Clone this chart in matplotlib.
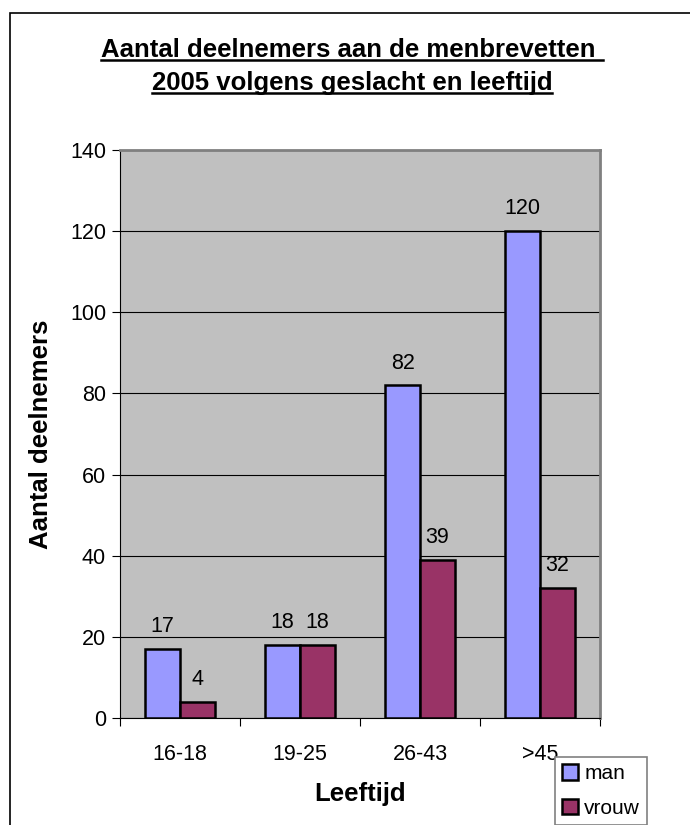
import matplotlib.pyplot as plt
from matplotlib.patches import Rectangle
from matplotlib.lines import Line2D
import numpy as np

plt.rcParams['font.family'] = ['Liberation Sans', 'DejaVu Sans']

categories = ['16-18', '19-25', '26-43', '>45']
man = [17, 18, 82, 120]
vrouw = [4, 18, 39, 32]
series_names = ['man', 'vrouw']
yticks = [0, 20, 40, 60, 80, 100, 120, 140]

W, H = 690, 825
fig = plt.figure(figsize=(W / 100, H / 100), dpi=100)

# plot area in pixels: left 120, right 600, top 150, bottom 718
ax = fig.add_axes([120 / W, 1 - 718 / H, 480 / W, 568 / H])
ax.set_facecolor('#C0C0C0')

x = np.arange(len(categories))
bw = 0.29
b1 = ax.bar(x - bw / 2, man, bw, color='#9999FF', edgecolor='black', linewidth=1.8, zorder=3)
b2 = ax.bar(x + bw / 2, vrouw, bw, color='#993366', edgecolor='black', linewidth=1.8, zorder=3)

for bars, vals in ((b1, man), (b2, vrouw)):
    for r, v in zip(bars, vals):
        ax.text(r.get_x() + r.get_width() / 2, v + 2.9, str(v), ha='center', va='bottom',
                fontsize=15.5, zorder=4)

ax.set_xlim(-0.5, len(categories) - 0.5)
ax.set_ylim(0, 140)
ax.set_yticks(yticks)
ax.yaxis.grid(True, color='black', linewidth=0.8, zorder=1)
ax.set_xticks(np.arange(len(categories) + 1) - 0.5)
ax.set_xticklabels([])
ax.set_xticks(x, minor=True)
ax.set_xticklabels(categories, minor=True, fontsize=15.5)
ax.tick_params(axis='x', which='minor', length=0, pad=19)
ax.tick_params(axis='x', which='major', length=6, direction='out')
ax.tick_params(axis='y', length=6, direction='out', labelsize=15.5, pad=4)

for s in ('top', 'right'):
    ax.spines[s].set_color('#808080')
    ax.spines[s].set_linewidth(2)
ax.spines['left'].set_color('black')
ax.spines['bottom'].set_color('black')

ax.set_ylabel('Aantal deelnemers', fontsize=18.5, fontweight='bold', labelpad=12)
ax.set_xlabel('Leeftijd', fontsize=18.5, fontweight='bold', labelpad=12)

# outer chart border
fig.patches.append(Rectangle((10 / W, -0.1), 1.0, 1 - 13 / H + 0.1, transform=fig.transFigure,
                             fill=False, edgecolor='black', linewidth=1.2))

# title with underline
title_lines = ['Aantal deelnemers aan de menbrevetten ', '2005 volgens geslacht en leeftijd']
title_y = [50, 83]
texts = []
for t, yy in zip(title_lines, title_y):
    texts.append(fig.text(352 / W, 1 - yy / H, t, ha='center', va='center',
                          fontsize=18.5, fontweight='bold'))

leg = fig.legend([b1, b2], series_names, loc='upper left',
                 bbox_to_anchor=(555 / W, 1 - 757 / H), fontsize=15, frameon=True,
                 fancybox=False, edgecolor='#808080', framealpha=1, borderpad=0.35,
                 handlelength=0.75, handleheight=0.75, handletextpad=0.3, labelspacing=0.75,
                 borderaxespad=0)
leg.get_frame().set_linewidth(1.2)

fig.canvas.draw()
r = fig.canvas.get_renderer()
for t in texts:
    bb = t.get_window_extent(r)
    yline = bb.y0 + 2
    fig.add_artist(Line2D([bb.x0 / W, bb.x1 / W], [yline / H, yline / H],
                          transform=fig.transFigure, color='black', linewidth=1.8))

fig.savefig('out.png', dpi=100)
